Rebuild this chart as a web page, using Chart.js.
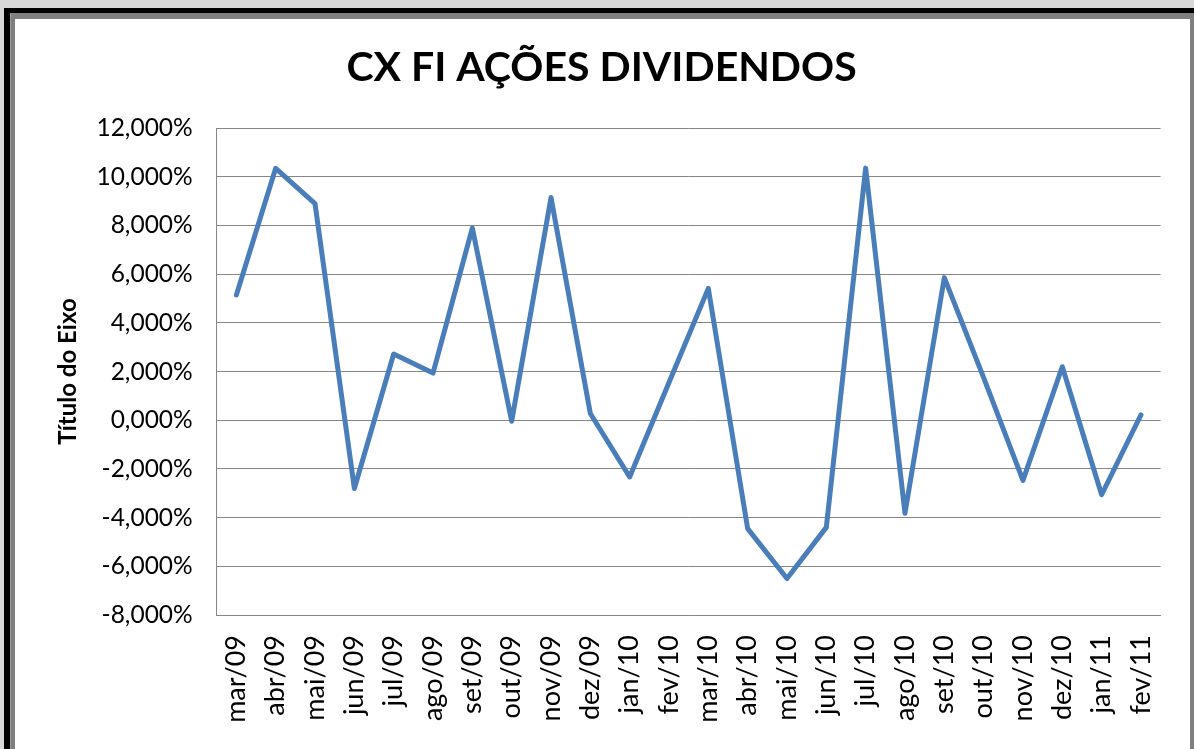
<!DOCTYPE html>
<html>
<head>
<meta charset="utf-8">
<script src="https://cdn.jsdelivr.net/npm/chart.js@4"></script>
<style>
html,body{margin:0;padding:0;background:#ffffff;overflow:hidden;}
#wrap{position:absolute;left:0;top:0;width:1194px;height:749px;}
</style>
</head>
<body>
<div id="wrap"><canvas id="c" width="1194" height="749"></canvas></div>
<script>
const title = 'CX FI AÇÕES DIVIDENDOS';
const yTitle = 'Título do Eixo';
const categories = ['mar/09','abr/09','mai/09','jun/09','jul/09','ago/09','set/09','out/09','nov/09','dez/09','jan/10','fev/10','mar/10','abr/10','mai/10','jun/10','jul/10','ago/10','set/10','out/10','nov/10','dez/10','jan/11','fev/11'];
const values = [5.15,10.35,8.9,-2.8,2.72,1.94,7.9,-0.04,9.15,0.28,-2.33,1.55,5.42,-4.45,-6.5,-4.4,10.36,-3.82,5.86,1.75,-2.47,2.2,-3.06,0.22];
const yMin = -8, yMax = 12, yStep = 2;

const framePlugin = {
  id: 'frame',
  beforeDraw(chart) {
    const ctx = chart.ctx;
    ctx.save();
    ctx.fillStyle = '#d8d8d8';
    ctx.fillRect(0, 0, 1194, 749);
    ctx.fillStyle = '#000000';
    ctx.fillRect(4, 8, 1200, 760);
    ctx.fillStyle = '#9a9a9a';
    ctx.fillRect(10, 13, 1200, 760);
    ctx.fillStyle = '#7f7f7f';
    ctx.fillRect(11, 13, 1200, 760);
    ctx.fillStyle = '#ffffff';
    ctx.fillRect(15, 19, 1175, 760);
    ctx.restore();
  }
};

const fmt = v => v.toFixed(3).replace('.', ',') + '%';

new Chart(document.getElementById('c'), {
  type: 'line',
  data: {
    labels: categories,
    datasets: [{
      data: values,
      borderColor: '#4a7ebb',
      borderWidth: 5,
      pointRadius: 0,
      tension: 0,
      fill: false,
      borderJoinStyle: 'round',
      borderCapStyle: 'round'
    }]
  },
  options: {
    responsive: false,
    animation: false,
    devicePixelRatio: 1,
    layout: { padding: { left: 40, right: 31, top: 0, bottom: 0 } },
    plugins: {
      legend: { display: false },
      tooltip: { enabled: false },
      title: {
        display: true,
        text: title,
        color: '#000000',
        font: { family: 'Lato', size: 41, weight: 'bold', lineHeight: 1.2 },
        padding: { top: 43, bottom: 36 }
      }
    },
    scales: {
      x: {
        offset: true,
        grid: { display: false, drawTicks: false },
        border: { display: true, color: '#868686', width: 1 },
        ticks: {
          color: '#000000',
          font: { family: 'Lato', size: 27 },
          minRotation: 90,
          maxRotation: 90,
          autoSkip: false,
          padding: 20
        },
        afterFit: s => { s.height = 134; }
      },
      y: {
        min: yMin,
        max: yMax,
        grid: { color: '#868686', lineWidth: 1, drawTicks: false },
        border: { display: true, color: '#868686', width: 1 },
        ticks: {
          stepSize: yStep,
          color: '#000000',
          font: { family: 'Lato', size: 24.5 },
          padding: 24,
          callback: v => fmt(v)
        },
        title: {
          display: true,
          text: yTitle,
          color: '#000000',
          font: { family: 'Lato', size: 24, weight: 'bold', lineHeight: 1.2 },
          padding: { top: 14, bottom: 0 }
        },
        afterFit: s => { s.width = 176.7; }
      }
    }
  },
  plugins: [framePlugin]
});
</script>
</body>
</html>
